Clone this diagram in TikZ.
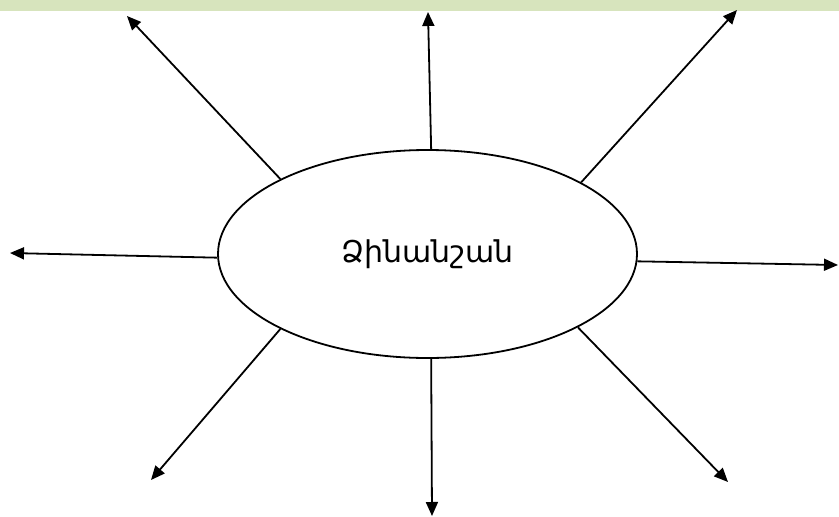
\documentclass[tikz,border=0pt]{standalone}
\usepackage{fontspec}
\newfontfamily\armfont{DejaVu Sans}
\usepackage{tikz}
\usetikzlibrary{shapes.geometric, arrows.meta, positioning}
\definecolor{bandgreen}{RGB}{215,228,189}
\tikzstyle{hub} = [ellipse, draw=black, line width=1.8pt, minimum width=419pt, minimum height=208pt, inner sep=0pt, align=center, font=\armfont\fontsize{30}{36}\selectfont]
\tikzstyle{ray} = [line width=1.8pt, -{Triangle[length=14pt, width=12pt]}]

\begin{document}
\begin{tikzpicture}[x=1pt, y=-1pt]
            \useasboundingbox (0,0) rectangle (839,517);
            \fill[bandgreen] (0,0) rectangle (839,11);

            % Nodes
            \node (hub) [hub] at (427.5,254) {Ձինանշան};

            \coordinate (tipTL) at (127,16);
            \coordinate (tipT) at (428,12);
            \coordinate (tipTR) at (737,10);
            \coordinate (tipL) at (10,253);
            \coordinate (tipR) at (838,265);
            \coordinate (tipBL) at (151,480);
            \coordinate (tipB) at (432,516);
            \coordinate (tipBR) at (728,482);

            % Edges
            \draw [ray] (hub.153) -- (tipTL);
            \draw [ray] (hub.88) -- (tipT);
            \draw [ray] (hub.25) -- (tipTR);
            \draw [ray] (hub.181.6) -- (tipL);
            \draw [ray] (hub.358.4) -- (tipR);
            \draw [ray] (hub.207.7) -- (tipBL);
            \draw [ray] (hub.272.4) -- (tipB);
            \draw [ray] (hub.334) -- (tipBR);
        \end{tikzpicture}
\end{document}
